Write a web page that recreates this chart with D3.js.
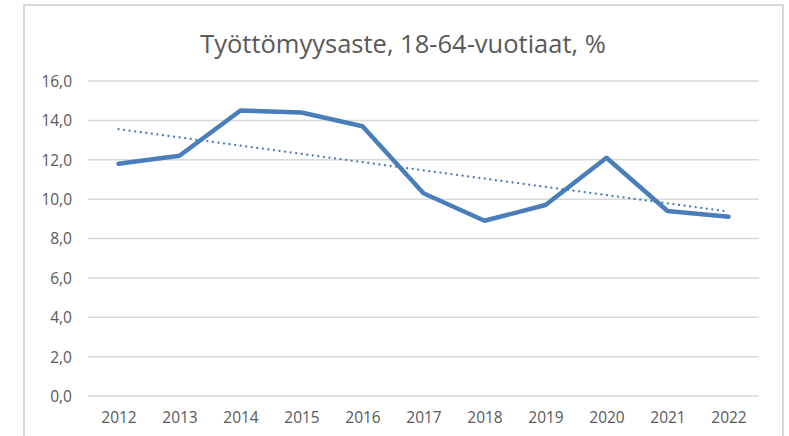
<!DOCTYPE html>
<meta charset="utf-8">
<script src="https://d3js.org/d3.v7.min.js"></script>
<style>
  body { margin: 0; background: #fff; }
  text { font-family: "Open Sans", "Liberation Sans", sans-serif; fill: #595959; }
</style>
<body>
<div id="my_dataviz"></div>
<script>
var years = ["2012", "2013", "2014", "2015", "2016", "2017", "2018", "2019", "2020", "2021", "2022"];
var rates = [11.8, 12.2, 14.5, 14.4, 13.7, 10.3, 8.9, 9.7, 12.1, 9.4, 9.1];
var yTicks = [0, 2, 4, 6, 8, 10, 12, 14, 16];
var title = "Työttömyysaste, 18-64-vuotiaat, %";

var W = 789, H = 436;
var margin = {top: 81, right: 30, bottom: 40, left: 88},
    width = 759 - margin.left,
    height = 396 - margin.top;

var svg = d3.select("#my_dataviz")
  .append("svg")
    .attr("width", W)
    .attr("height", H);

// chart area border (bottom edge is cut off in the original)
svg.append("path")
  .attr("d", "M24," + H + "V5H783V" + H)
  .attr("fill", "none")
  .attr("stroke", "#d9d9d9")
  .attr("stroke-width", 2);

svg.append("text")
  .attr("x", 403)
  .attr("y", 53)
  .attr("text-anchor", "middle")
  .style("font-size", "25.5px")
  .text(title);

var g = svg.append("g")
  .attr("transform", "translate(" + margin.left + "," + margin.top + ")");

var x = d3.scalePoint()
  .domain(years)
  .range([0, width])
  .padding(0.5);

var y = d3.scaleLinear()
  .domain([0, 16])
  .range([height, 0]);

// gridlines
g.append("g")
  .selectAll("line")
  .data(yTicks)
  .join("line")
    .attr("x1", 0)
    .attr("x2", width)
    .attr("y1", function(d) { return y(d); })
    .attr("y2", function(d) { return y(d); })
    .attr("stroke", "#d9d9d9")
    .attr("stroke-width", 1.5);

var yAxis = g.append("g")
  .call(d3.axisLeft(y).tickValues(yTicks).tickSize(0).tickPadding(16)
    .tickFormat(function(d) { return d3.format(".1f")(d).replace(".", ","); }));
yAxis.select(".domain").remove();
yAxis.selectAll("text").style("font-size", "15.5px").attr("dy", "0.35em");

var xAxis = g.append("g")
  .attr("transform", "translate(0," + height + ")")
  .call(d3.axisBottom(x).tickSize(0).tickPadding(16));
xAxis.select(".domain").remove();
xAxis.selectAll("text").style("font-size", "15.5px");

// linear trend (least squares, like Excel's trendline)
var xs = d3.range(years.length);
var mx = d3.mean(xs), my = d3.mean(rates);
var slope = d3.sum(xs, function(i) { return (i - mx) * (rates[i] - my); }) /
            d3.sum(xs, function(i) { return (i - mx) * (i - mx); });
var trend = xs.map(function(i) { return {year: years[i], value: my + slope * (i - mx)}; });

g.append("path")
  .datum([trend[0], trend[trend.length - 1]])
  .attr("fill", "none")
  .attr("stroke", "#4a7ebb")
  .attr("stroke-width", 2.2)
  .attr("stroke-linecap", "round")
  .attr("stroke-dasharray", "0.1,5.5")
  .attr("d", d3.line()
    .x(function(d) { return x(d.year); })
    .y(function(d) { return y(d.value); }));

g.append("path")
  .datum(years.map(function(yr, i) { return {year: yr, value: rates[i]}; }))
  .attr("fill", "none")
  .attr("stroke", "#4a7ebb")
  .attr("stroke-width", 4.5)
  .attr("stroke-linejoin", "round")
  .attr("stroke-linecap", "round")
  .attr("d", d3.line()
    .x(function(d) { return x(d.year); })
    .y(function(d) { return y(d.value); }));
</script>
</body>
